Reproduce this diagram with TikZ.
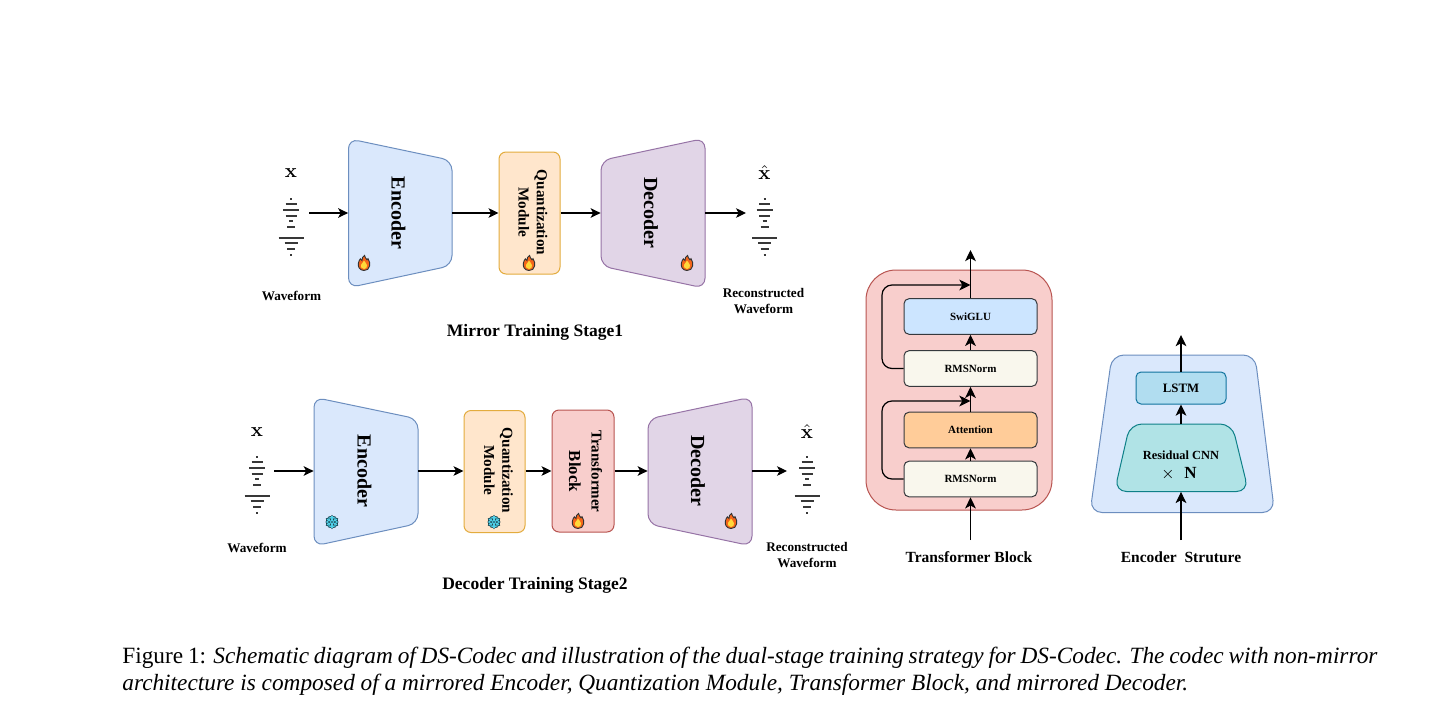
\documentclass[tikz,border=0pt]{standalone}
\usepackage[no-math]{fontspec}
\setmainfont{Liberation Serif}
\usetikzlibrary{arrows.meta}
\definecolor{encF}{HTML}{DAE8FC}\definecolor{encD}{HTML}{6C8EBF}
\definecolor{decF}{HTML}{E1D5E7}\definecolor{decD}{HTML}{9673A6}
\definecolor{quaF}{HTML}{FFE6CC}\definecolor{quaD}{HTML}{E3AC3E}
\definecolor{trF}{HTML}{F8CECC}\definecolor{trD}{HTML}{B85450}
\definecolor{swiF}{HTML}{CCE5FF}\definecolor{rmsF}{HTML}{F9F7ED}\definecolor{attF}{HTML}{FFCC99}
\definecolor{blkD}{HTML}{36393D}
\definecolor{lstF}{HTML}{B1DDF0}\definecolor{lstD}{HTML}{10739E}
\definecolor{resF}{HTML}{B0E3E6}\definecolor{resD}{HTML}{0E8088}
\definecolor{flO}{HTML}{F4651A}\definecolor{flY}{HTML}{FFD83A}
\definecolor{snF}{HTML}{4FD0E8}\definecolor{snD}{HTML}{12303A}
\tikzset{
  arr/.style={draw=black,line width=0.55pt,-{Stealth[length=5pt,width=4.8pt,inset=1.3pt]}},
  arrb/.style={draw=black,line width=0.6pt,-{Stealth[length=5.6pt,width=5.4pt,inset=1.5pt]}},
  plainpanel/.style={line width=0.5pt,rounded corners=5pt},
  vlabel/.style={rotate=-90,align=center,font=\bfseries\fontsize{7.6}{9.1}\selectfont,inner sep=0pt},
  biglabel/.style={rotate=-90,font=\bfseries\fontsize{10}{12}\selectfont,inner sep=0pt},
  smalltxt/.style={align=center,font=\bfseries\fontsize{6.6}{8}\selectfont,inner sep=0pt},
  stagetxt/.style={font=\bfseries\fontsize{8.75}{10}\selectfont,inner sep=0pt},
  captxt/.style={font=\bfseries\fontsize{7.75}{9}\selectfont,inner sep=0pt},
  blockbox/.style={draw=blkD,line width=0.5pt,rounded corners=2.5pt,minimum width=66.5pt,minimum height=17.8pt,inner sep=0pt,font=\bfseries\fontsize{5.5}{7}\selectfont},
}
% waveform: #1 centre x, #2 first line y
\newcommand{\wavef}[2]{%
  \foreach \dy/\w/\lw in {0/2/.9,5/11/.8,11/16/.9,17/11/.8,22/4/.8,28/8/.8,39/25/.9,44/13/.9,50/8/.9,56/2/.9}{%
    \draw[line width=\lw pt,black!78] (#1-\w/2,#2+\dy) -- (#1+\w/2,#2+\dy);}}
\newcommand{\flame}[2]{%
  \begin{scope}[shift={(#1,#2)}]
    \path[fill=flO,draw=black!80,line width=0.45pt] (0,7.5) .. controls (-5,7.5) and (-6.3,3) .. (-5.6,0)
      .. controls (-5.2,-2) and (-4.3,-3.5) .. (-3.6,-4.2) .. controls (-3.2,-3) and (-2.5,-2.6) .. (-2,-2.6)
      .. controls (-2.4,-5) and (-1,-6.5) .. (0.6,-7.5) .. controls (0.6,-5.5) and (2,-5) .. (3,-3.2)
      .. controls (3.6,-3.4) and (4,-3.8) .. (4,-4.4) .. controls (5.6,-2) and (6.2,1) .. (5.6,3)
      .. controls (5,6) and (3,7.5) .. (0,7.5) -- cycle;
    \path[fill=flY] (0,6) .. controls (-2.8,6) and (-3.6,3.5) .. (-2.8,1.6)
      .. controls (-2,0) and (-0.6,-0.8) .. (0,-2.4) .. controls (1,-0.8) and (2.6,0.4) .. (3,2.2)
      .. controls (3.4,4.4) and (2,6) .. (0,6) -- cycle;
  \end{scope}}
\newcommand{\snow}[2]{%
  \begin{scope}[shift={(#1,#2)}]
    \foreach \col/\lw in {snD/1.35,snF/0.6}{%
      \foreach \a in {30,90,...,330}{%
        \draw[\col,line width=\lw pt,line cap=round] (0,0) -- (\a:5.8);
        \draw[\col,line width=\lw pt,line cap=round] ([shift={(\a:3.2)}]\a+55:2.6) -- (\a:3.2) -- ([shift={(\a:3.2)}]\a-55:2.6);
      }}
    \fill[snD] (0,0) circle (0.9);
  \end{scope}}
\begin{document}
\begin{tikzpicture}[x=0.5pt,y=-0.5pt]
\useasboundingbox[fill=white] (0,0) rectangle (1440,712);

% ---------- Stage 1 ----------
\path[plainpanel,fill=encF,draw=encD] (348.5,138.7) -- (452,160.5) -- (452,265.5) -- (348.5,287.7) -- cycle;
\path[plainpanel,fill=decF,draw=decD] (601,160.5) -- (705,138.3) -- (705,288.2) -- (601,266) -- cycle;
\node[biglabel] (enc1txt) at (398.5,213) {Encoder};
\node[inner sep=0pt,minimum width=51.75pt,minimum height=73pt] (enc1) at (400.25,213) {};
\node[draw=quaD,fill=quaF,line width=0.5pt,rounded corners=3.5pt,minimum width=30.5pt,minimum height=61pt,inner sep=0pt] (qua1) at (529.5,213) {};
\node[vlabel] (qua1txt) at (533,212.5) {Quantization\\Module};
\node[biglabel] (dec1txt) at (651,213) {Decoder};
\node[inner sep=0pt,minimum width=52pt,minimum height=73pt] (dec1) at (653,213) {};
\node (x1) at (291,173.5) {\fontsize{10}{11}\selectfont$\mathbf{x}$};
\node (xh1) at (764.5,172.5) {\fontsize{10}{11}\selectfont$\hat{\mathbf{x}}$};
\wavef{291}{199}
\wavef{764.5}{199}
\coordinate (w1out) at (309,213);
\coordinate (w1in) at (746,213);
\draw[arr] (w1out) -- (enc1.west);
\draw[arr] (enc1.east) -- (qua1.west);
\draw[arr] (qua1.east) -- (dec1.west);
\draw[arr] (dec1.east) -- (w1in);
\node[smalltxt] (wl1) at (291.5,296) {Waveform};
\node[smalltxt] (rl1) at (763.5,301) {Reconstructed\\[0pt]Waveform};
\node[stagetxt] (st1) at (535,332) {Mirror Training Stage1};
\flame{364}{263}\flame{529}{263}\flame{687}{263}

% ---------- Stage 2 ----------
\path[plainpanel,fill=encF,draw=encD] (314,397.3) -- (418,419) -- (418,523.5) -- (314,546) -- cycle;
\path[plainpanel,fill=decF,draw=decD] (648,419) -- (752,397) -- (752,546) -- (648,524) -- cycle;
\node[biglabel] (enc2txt) at (364.5,471) {Encoder};
\node[inner sep=0pt,minimum width=52pt,minimum height=73pt] (enc2) at (366,471) {};
\node[draw=quaD,fill=quaF,line width=0.5pt,rounded corners=3.5pt,minimum width=30.5pt,minimum height=61pt,inner sep=0pt] (qua2) at (494.5,471.5) {};
\node[vlabel] (qua2txt) at (498.5,470.5) {Quantization\\Module};
\node[draw=trD,fill=trF,line width=0.5pt,rounded corners=3.5pt,minimum width=31pt,minimum height=61pt,inner sep=0pt] (tr2) at (583,471) {};
\node[vlabel,font=\bfseries\fontsize{7.5}{11.3}\selectfont] (tr2txt) at (585.5,471.5) {Transformer\\{\fontsize{8.4}{11.3}\selectfont Block}};
\node[biglabel] (dec2txt) at (698,471) {Decoder};
\node[inner sep=0pt,minimum width=52pt,minimum height=73pt] (dec2) at (700,471) {};
\node (x2) at (257,432) {\fontsize{10}{11}\selectfont$\mathbf{x}$};
\node (xh2) at (807,431.5) {\fontsize{10}{11}\selectfont$\hat{\mathbf{x}}$};
\wavef{257}{457}
\wavef{807}{457}
\coordinate (w2out) at (274,471);
\coordinate (w2in) at (787,471);
\draw[arr] (w2out) -- (enc2.west);
\draw[arr] (enc2.east) -- (qua2.west |- enc2.east);
\draw[arr] (qua2.east |- enc2.east) -- (tr2.west);
\draw[arr] (tr2.east) -- (dec2.west);
\draw[arr] (dec2.east) -- (w2in);
\node[smalltxt] (wl2) at (257,547.5) {Waveform};
\node[smalltxt] (rl2) at (807,555.5) {Reconstructed\\[0pt]Waveform};
\node[stagetxt] (st2) at (535,585) {Decoder Training Stage2};
\snow{332}{522}\snow{494}{522}
\flame{578}{521}\flame{731}{521}

% ---------- Transformer block ----------
\node[draw=trD,fill=trF,line width=0.5pt,rounded corners=15pt,minimum width=93pt,minimum height=120pt,inner sep=0pt] (tb) at (959,390) {};
\node[blockbox,fill=swiF] (swi) at (970.5,316.5) {SwiGLU};
\node[blockbox,fill=rmsF] (rms2) at (970.5,368.5) {RMSNorm};
\node[blockbox,fill=attF] (att) at (970.5,430) {Attention};
\node[blockbox,fill=rmsF] (rms1) at (970.5,479) {RMSNorm};
\coordinate (tbin) at (970.5,540);
\coordinate (tbout) at (970.5,250);
\coordinate (sk1) at (970.5,401);
\coordinate (sk2) at (970.5,285);
\draw[arrb] (tbin) -- (rms1.south);
\draw[arrb] (rms1.north) -- (att.south);
\draw[arrb] (att.north) -- (rms2.south);
\draw[arrb] (rms2.north) -- (swi.south);
\draw[arrb] (swi.north) -- (tbout);
\draw[arrb,rounded corners=5pt] (rms1.west) -- (882,479) -- (882,401) -- (sk1);
\draw[arrb,rounded corners=5pt] (rms2.west) -- (882,368.5) -- (882,285) -- (sk2);
\node[captxt] (tbl) at (969,557) {Transformer Block};

% ---------- Encoder structure ----------
\path[line width=0.5pt,rounded corners=6pt,fill=encF,draw=encD] (1112,355) -- (1255,355) -- (1274.5,512.5) -- (1090,512.5) -- cycle;
\node[draw=lstD,fill=lstF,line width=0.5pt,rounded corners=2.5pt,minimum width=45pt,minimum height=16pt,inner sep=0pt,font=\bfseries\fontsize{6.4}{8}\selectfont] (lstm) at (1181,388) {LSTM};
\path[line width=0.5pt,rounded corners=6pt,fill=resF,draw=resD] (1130,424) -- (1232,424) -- (1248.5,491.5) -- (1114.5,491.5) -- cycle;
\node[inner sep=0pt,minimum width=60pt,minimum height=33.75pt] (res) at (1181,457.75) {};
\node[font=\bfseries\fontsize{6.2}{8}\selectfont,inner sep=0pt] (restxt) at (1181,455) {Residual CNN};
\node[font=\fontsize{8.5}{10}\selectfont,inner sep=0pt] (restxt2) at (1179,474) {$\times$\hspace{5pt}\textbf{N}};
\coordinate (esin) at (1181,540);
\coordinate (esout) at (1181,335);
\draw[arrb] (esin) -- (res.south);
\draw[arrb] (res.north) -- (lstm.south);
\draw[arrb] (lstm.north) -- (esout);
\node[captxt] (esl) at (1181,557) {Encoder\ \ Struture};

% ---------- Caption ----------
\node[anchor=north west,inner sep=0pt,text width=627.5pt,align=justify,font=\fontsize{11.65}{13.2}\selectfont] (caption) at (122,647)
 {Figure 1: \textit{Schematic diagram of DS-Codec and illustration of the dual-stage training strategy for DS-Codec. The codec with non-mirror architecture is composed of a mirrored Encoder, Quantization Module, Transformer Block, and mirrored Decoder.}};
\end{tikzpicture}
\end{document}
